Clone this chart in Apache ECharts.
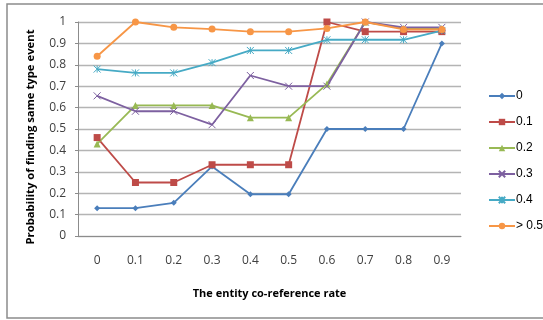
<!DOCTYPE html>
<html>
<head>
<meta charset="utf-8">
<script src="https://cdn.jsdelivr.net/npm/echarts@6/dist/echarts.min.js"></script>
<style>html,body{margin:0;padding:0;background:#fff}#c{width:543px;height:320px}</style>
</head>
<body>
<div id="c"></div>
<script>
const categories = ['0','0.1','0.2','0.3','0.4','0.5','0.6','0.7','0.8','0.9'];
const seriesNames = ['0','0.1','0.2','0.3','0.4','> 0.5'];
const s0   = [0.13, 0.13, 0.155, 0.325, 0.195, 0.195, 0.5, 0.5, 0.5, 0.9];
const s01  = [0.46, 0.25, 0.25, 0.333, 0.333, 0.333, 1.0, 0.955, 0.955, 0.955];
const s02  = [0.43, 0.61, 0.61, 0.61, 0.553, 0.553, 0.71, 1.0, 0.97, 0.97];
const s03  = [0.655, 0.583, 0.583, 0.52, 0.75, 0.70, 0.70, 1.0, 0.975, 0.975];
const s04  = [0.78, 0.762, 0.762, 0.81, 0.867, 0.867, 0.917, 0.917, 0.917, 0.96];
const s05  = [0.84, 1.0, 0.975, 0.967, 0.955, 0.955, 0.97, 1.0, 0.965, 0.965];
const yTicks = [0,0.1,0.2,0.3,0.4,0.5,0.6,0.7,0.8,0.9,1];

const colors = ['#4A7EBB','#BE4B48','#98B954','#7D60A0','#46AAC5','#F79646'];
const symbols = ['diamond','rect','triangle','path://M0,0L10,10M10,0L0,10','path://M0,0L10,10M10,0L0,10M5,0L5,10','circle'];
const sizes = [6,7,7,7,7,7];
const allData = [s0,s01,s02,s03,s04,s05];

const chart = echarts.init(document.getElementById('c'));
chart.setOption({
  animation:false,
  backgroundColor:'#fff',
  textStyle:{fontFamily:'Open Sans'},
  graphic:[{type:'rect',shape:{x:7,y:4,width:560,height:314},style:{fill:'none',stroke:'#8c8c8c',lineWidth:1.5},z:-1}],
  grid:{left:78,right:82,top:22,bottom:84},
  legend:{
    orient:'vertical',left:483,top:85,itemWidth:26,itemHeight:8,itemGap:14,
    data:seriesNames,
    textStyle:{fontFamily:'Liberation Sans Narrow, Liberation Sans',fontSize:12,color:'#000',padding:[0,0,0,-4]}
  },
  xAxis:{
    type:'category',data:categories,boundaryGap:true,
    name:'The entity co-reference rate',nameLocation:'middle',nameGap:52,
    nameTextStyle:{fontFamily:'Open Sans',fontWeight:'bold',fontSize:11,color:'#000'},
    axisLine:{lineStyle:{color:'#8c8c8c',width:1}},
    axisTick:{show:false},
    axisLabel:{margin:19,fontSize:12,color:'#404040'}
  },
  yAxis:{
    type:'value',min:0,max:1,interval:0.1,
    name:'Probability of finding same type event',nameLocation:'middle',nameGap:42,
    nameTextStyle:{fontFamily:'Open Sans',fontWeight:'bold',fontSize:11.3,color:'#000',padding:[0,16,0,0]},
    axisLine:{show:true,lineStyle:{color:'#8c8c8c',width:1}},
    axisTick:{show:true,length:3,lineStyle:{color:'#8c8c8c'}},
    axisLabel:{margin:12,fontSize:12,color:'#404040',formatter:v=>String(Math.round(v*10)/10)},
    splitLine:{lineStyle:{color:'#b4b4b4',width:1.3}}
  },
  series: seriesNames.map((n,i)=>({
    name:n,type:'line',data:allData[i],
    symbol:symbols[i],symbolSize:sizes[i],
    lineStyle:{color:colors[i],width:1.8},
    itemStyle:(i===3||i===4)?{color:colors[i],borderColor:colors[i],borderWidth:1}:{color:colors[i]}
  }))
});
</script>
</body>
</html>
